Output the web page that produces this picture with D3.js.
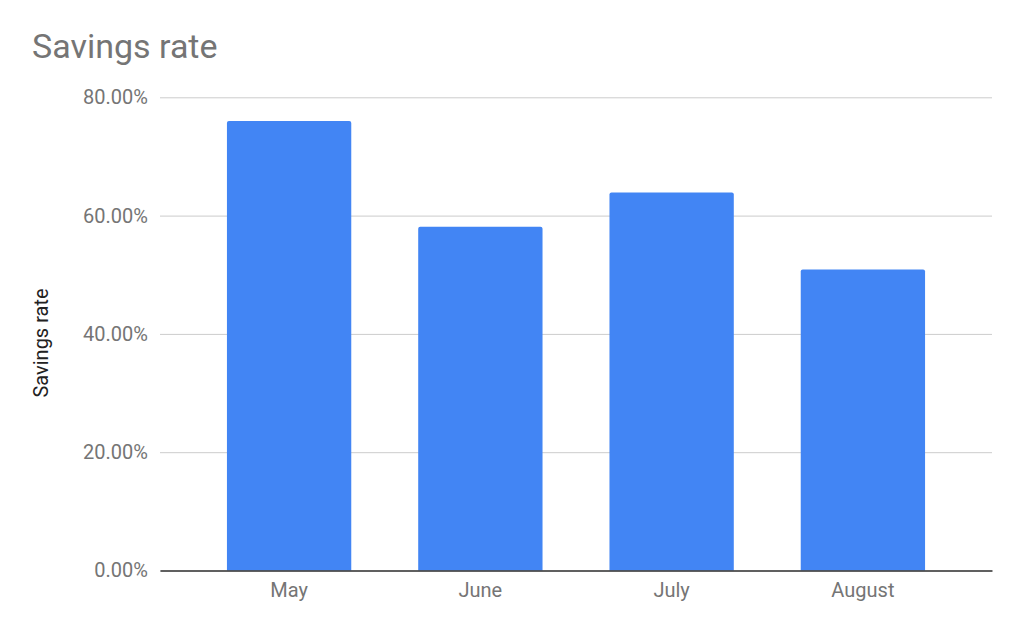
<!DOCTYPE html>
<html><head><meta charset="utf-8">
<script src="https://cdn.jsdelivr.net/npm/d3@7"></script>
<style>body{margin:0;background:#fff}svg{display:block}text{font-family:Roboto,"Noto Sans",sans-serif}</style>
</head><body><svg id="c" width="1024" height="633"></svg>
<script>
const categories = ["May", "June", "July", "August"];
const values = [76.0, 58.1, 63.9, 50.9];
const yTicks = [0, 20, 40, 60, 80];
const title = "Savings rate";
const yTitle = "Savings rate";

(function(){
const svg = d3.select("#c");
const pLeft = 160, pRight = 992, pTop = 97.3, pBottom = 570.5;
const x = d3.scaleBand().domain(categories).range([pLeft, pRight]).paddingInner(0.35).paddingOuter(0.35);
const y = d3.scaleLinear().domain([0, 80]).range([pBottom, pTop]);

svg.append("rect").attr("width",1024).attr("height",633).attr("fill","#fff");

svg.append("text").attr("x",32).attr("y",58).attr("font-size",34).attr("fill","#757575").text(title);

const yAxis = svg.append("g").attr("transform",`translate(${pLeft},0)`)
  .call(d3.axisLeft(y).tickValues(yTicks).tickSize(-(pRight-pLeft)).tickFormat(d => d.toFixed(2) + "%").tickPadding(12));
yAxis.select(".domain").remove();
yAxis.selectAll(".tick line").attr("stroke","#cccccc").attr("stroke-width",1);
yAxis.selectAll(".tick text").attr("font-size",20).attr("fill","#757575").attr("font-family","Roboto");

svg.selectAll("path.bar").data(values).enter().append("path").attr("class","bar")
  .attr("fill","#4285f4")
  .attr("d",(d,i)=>{
    const x0 = x(categories[i]), w = x.bandwidth(), y0 = y(d), yb = y(0), r = 2;
    return `M${x0},${yb}V${y0+r}Q${x0},${y0} ${x0+r},${y0}H${x0+w-r}Q${x0+w},${y0} ${x0+w},${y0+r}V${yb}Z`;
  });

const xAxis = svg.append("g").attr("transform",`translate(0,${pBottom})`)
  .call(d3.axisBottom(x).tickSize(0).tickPadding(12));
xAxis.select(".domain").attr("stroke","#333").attr("stroke-width",1.3);
xAxis.selectAll(".tick text").attr("font-size",20).attr("fill","#757575").attr("font-family","Roboto");

svg.append("text").attr("transform",`translate(48,343) rotate(-90)`).attr("text-anchor","middle")
  .attr("font-size",20).attr("fill","#222").text(yTitle);
})();
</script></body></html>
